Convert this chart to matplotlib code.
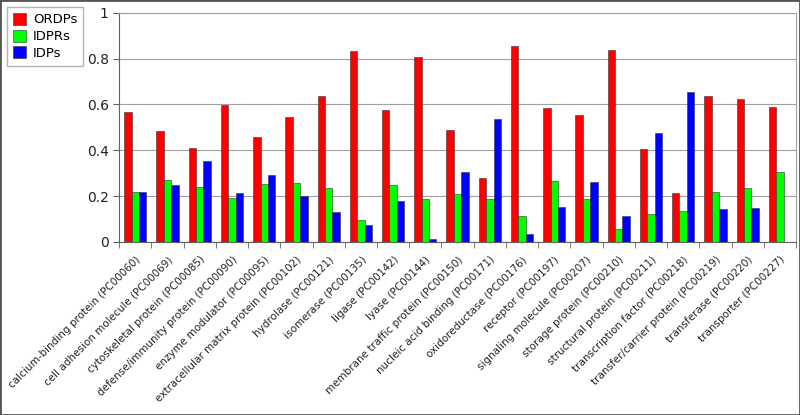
import matplotlib
matplotlib.use("Agg")
import matplotlib.pyplot as plt
import numpy as np
from matplotlib.patches import Rectangle

categories = [
    "calcium-binding protein (PC00060)",
    "cell adhesion molecule (PC00069)",
    "cytoskeletal protein (PC00085)",
    "defense/immunity protein (PC00090)",
    "enzyme modulator (PC00095)",
    "extracellular matrix protein (PC00102)",
    "hydrolase (PC00121)",
    "isomerase (PC00135)",
    "ligase (PC00142)",
    "lyase (PC00144)",
    "membrane traffic protein (PC00150)",
    "nucleic acid binding (PC00171)",
    "oxidoreductase (PC00176)",
    "receptor (PC00197)",
    "signaling molecule (PC00207)",
    "storage protein (PC00210)",
    "structural protein (PC00211)",
    "transcription factor (PC00218)",
    "transfer/carrier protein (PC00219)",
    "transferase (PC00220)",
    "transporter (PC00227)",
]
ordps = [0.566, 0.486, 0.409, 0.597, 0.460, 0.546, 0.638, 0.834, 0.574, 0.806, 0.489,
         0.281, 0.856, 0.585, 0.553, 0.837, 0.405, 0.214, 0.638, 0.622, 0.588]
idprs = [0.220, 0.271, 0.240, 0.192, 0.252, 0.259, 0.236, 0.096, 0.249, 0.188, 0.208,
         0.186, 0.114, 0.266, 0.188, 0.055, 0.124, 0.135, 0.220, 0.236, 0.304]
idps = [0.220, 0.249, 0.354, 0.215, 0.293, 0.201, 0.131, 0.073, 0.180, 0.013, 0.307,
        0.537, 0.035, 0.153, 0.263, 0.112, 0.477, 0.656, 0.144, 0.147, 0.0]

fig = plt.figure(figsize=(8, 4.15), dpi=100)
ax = fig.add_axes([0.149, 0.417, 0.846, 0.552])

x = np.arange(len(categories))
w = 0.23
kw = dict(edgecolor="#333333", linewidth=0.4, zorder=3)
ax.bar(x - w, ordps, w, color="#ff0000", label="ORDPs", **kw)
ax.bar(x, idprs, w, color="#00ff00", label="IDPRs", **kw)
ax.bar(x + w, idps, w, color="#0000ff", label="IDPs", **kw)

ax.set_xlim(-0.5, len(categories) - 0.5)
ax.set_ylim(0, 1)
ax.set_yticks([0, 0.2, 0.4, 0.6, 0.8, 1.0])
ax.set_yticklabels(["0", "0.2", "0.4", "0.6", "0.8", "1"], fontsize=10, color="#222222")
ax.yaxis.grid(True, color="#a0a0a0", linewidth=0.8, zorder=0)

ax.set_xticks(x)
ax.set_xticklabels(categories, rotation=45, ha="right", rotation_mode="anchor",
                   fontsize=7.5, color="#222222")
ax.tick_params(axis="x", which="major", length=0, pad=9)
ax.set_xticks(np.arange(len(categories) + 1) - 0.5, minor=True)
ax.tick_params(axis="x", which="minor", length=4, color="#606060", direction="out")
ax.tick_params(axis="y", length=4, color="#606060", direction="out")

for side in ["left", "bottom"]:
    ax.spines[side].set_color("#606060")
for side in ["right", "top"]:
    ax.spines[side].set_color("#a0a0a0")

fig.legend(loc="upper left", bbox_to_anchor=(0.009, 0.983), borderaxespad=0,
           fontsize=9.5, frameon=True, fancybox=False, edgecolor="#a0a0a0",
           handlelength=1.0, handleheight=1.0, handletextpad=0.5,
           labelspacing=0.25, borderpad=0.45)

fig.patches.append(Rectangle((0, 0), 1, 1, transform=fig.transFigure,
                             fill=False, edgecolor="#555555", linewidth=2))

fig.savefig("out.png", dpi=100)
